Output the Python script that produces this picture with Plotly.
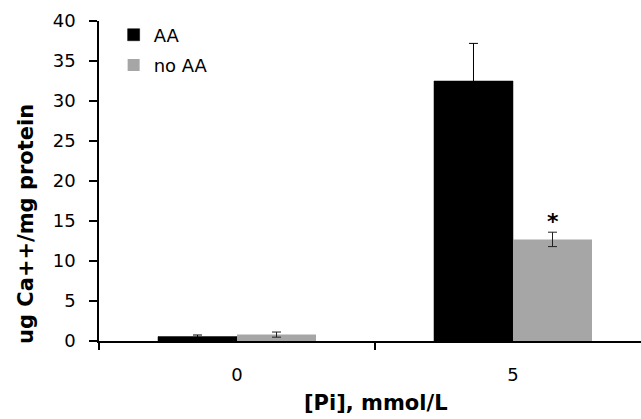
import plotly.graph_objects as go

categories = ["0", "5"]
aa_values = [0.55, 32.5]
aa_errors = [0.2, 4.7]
noaa_values = [0.8, 12.7]
noaa_errors = [0.32, 0.9]
y_ticks = [0, 5, 10, 15, 20, 25, 30, 35, 40]

FONT = "DejaVu Sans"
BARGAP = 0.4275

fig = go.Figure()
fig.add_trace(go.Bar(
    x=categories, y=aa_values, name="AA",
    marker=dict(color="#000000", line=dict(color="#000000", width=0.5)),
    error_y=dict(type="data", array=aa_errors, visible=True,
                 color="#000000", thickness=1, width=4.5),
    legendgroup="a",
))
fig.add_trace(go.Bar(
    x=categories, y=noaa_values, name="no AA",
    marker=dict(color="#A6A6A6", line=dict(width=0)),
    error_y=dict(type="data", array=noaa_errors, visible=True,
                 color="#202020", thickness=1, width=4.5),
    legendgroup="b",
))

# significance marker above the "no AA" bar at [Pi] = 5
i5 = categories.index("5")
fig.add_annotation(x=i5 + (1 - BARGAP) / 4, y=noaa_values[i5] + noaa_errors[i5],
                   xref="x", yref="y", yshift=11, text="<b>*</b>", showarrow=False,
                   xanchor="center", yanchor="middle",
                   font=dict(family=FONT, size=22, color="#000000"))

fig.add_annotation(x=-0.1347, y=0.3656, xref="paper", yref="paper",
                   text="<b>ug Ca++/mg protein</b>", textangle=-90, showarrow=False,
                   xanchor="center", yanchor="middle",
                   font=dict(family=FONT, size=21, color="#000000"))
fig.add_annotation(x=0.511, y=-0.194, xref="paper", yref="paper",
                   text="<b>[Pi], mmol/L</b>", showarrow=False,
                   xanchor="center", yanchor="middle",
                   font=dict(family=FONT, size=21, color="#000000"))

fig.update_layout(
    width=641, height=419,
    margin=dict(l=99, r=0, t=21, b=78),
    paper_bgcolor="white", plot_bgcolor="white",
    barmode="group", bargap=BARGAP, bargroupgap=0,
    font=dict(family=FONT, size=18, color="#000000"),
    showlegend=True,
    legend=dict(x=0.027, y=1.014, xanchor="left", yanchor="top",
                bgcolor="rgba(0,0,0,0)", font=dict(family=FONT, size=18),
                tracegroupgap=4, traceorder="grouped"),
    xaxis=dict(type="category", range=[-0.5, 1.4638], showline=True,
               linecolor="#000000", linewidth=1.5, ticks="outside",
               tickson="boundaries", ticklen=7, tickwidth=1.5, tickcolor="#000000",
               showgrid=False, zeroline=False, ticklabelstandoff=17,
               tickfont=dict(family=FONT, size=18, color="#000000")),
    yaxis=dict(range=[0, 40], tickvals=y_ticks, showline=True,
               linecolor="#000000", linewidth=1.5, ticks="outside",
               ticklen=8, tickwidth=1.5, tickcolor="#000000",
               showgrid=False, zeroline=False, ticklabelstandoff=10,
               tickfont=dict(family=FONT, size=18, color="#000000")),
)

fig.write_html("out.html")
